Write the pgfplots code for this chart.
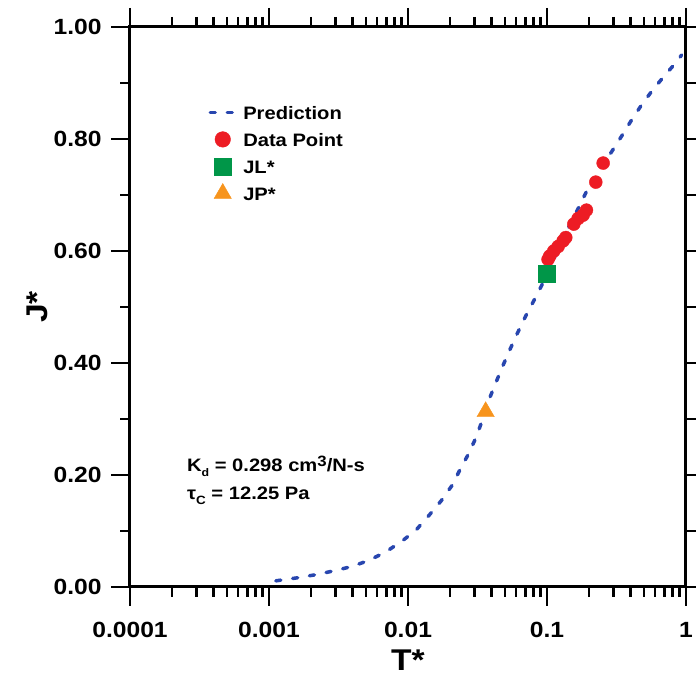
\documentclass[border=0pt]{standalone}
\usepackage{fontspec}
\setmainfont{Liberation Sans}[FakeStretch=1.12]
\usepackage{pgfplots}
\pgfplotsset{compat=1.18}
\definecolor{predblue}{RGB}{40,70,175}
\definecolor{ptred}{RGB}{237,28,36}
\definecolor{ptgreen}{RGB}{0,150,72}
\definecolor{ptorange}{RGB}{247,148,29}
\pgfplotstableread{
x y
0.00112 0.011
0.00156 0.016
0.00218 0.022
0.00295 0.029
0.0040 0.037
0.00528 0.048
0.00696 0.063
0.00917 0.083
0.01146 0.102
0.01429 0.129
0.01734 0.154
0.02083 0.182
0.0235 0.208
0.02742 0.239
0.0310 0.268
0.03427 0.298
0.0382 0.334
0.04273 0.364
0.04775 0.393
0.0539 0.423
0.0612 0.453
0.0703 0.484
0.0803 0.511
0.1 0.557
0.1236 0.611
0.1585 0.664
0.2032 0.718
0.2914 0.777
0.344 0.805
0.4063 0.834
0.4797 0.861
0.5757 0.8875
0.706 0.914
0.857 0.938
0.93 0.950
}\predtable
\pgfplotstableread{
x y
0.1018 0.585
0.1047 0.591
0.1119 0.600
0.1202 0.608
0.1306 0.618
0.1365 0.624
0.1559 0.648
0.1674 0.658
0.1819 0.664
0.1923 0.673
0.2244 0.723
0.2535 0.757
}\datatable
\begin{document}
\begin{tikzpicture}
\begin{axis}[
  at={(0pt,0pt)}, anchor=south west,
  scale only axis, width=556pt, height=560pt,
  xmode=log, xmin=1e-4, xmax=1, ymin=0, ymax=1,
  xtick={1e-4,1e-3,1e-2,1e-1,1},
  xticklabels={0.0001,0.001,0.01,0.1,1},
  ytick={0,0.2,0.4,0.6,0.8,1},
  minor ytick={0.1,0.3,0.5,0.7,0.9},
  yticklabel style={xshift=-6pt, /pgf/number format/.cd, fixed, fixed zerofill, precision=2},
  /pgf/number format/assume math mode=true,
  tick label style={font=\fontsize{22}{22}\selectfont\bfseries},
  xticklabel style={yshift=-13pt},
  tick align=outside,
  major tick length=19pt, minor tick length=10pt,
  tick style={line width=2.5pt, black},
  axis line style={line width=3pt},
  xlabel={T*}, ylabel={J*},
  label style={font=\fontsize{30}{30}\selectfont\bfseries},
  xlabel style={at={([yshift=-73pt]axis description cs:0.5,0)}, anchor=center},
  ylabel style={at={([xshift=-93pt]axis description cs:0,0.5)}, anchor=center},
  legend image code/.code={\path[draw=none,fill=none] (0pt,-4pt) rectangle (25pt,9pt); \draw[overlay,mark repeat=2,mark phase=2,#1] plot coordinates {(0pt,0pt) (12.5pt,0pt) (25pt,0pt)};},
  legend cell align=left,
  legend style={at={(axis description cs:0.144,0.864)}, anchor=north west, draw=none, fill=none,
    font=\fontsize{18}{18}\selectfont\bfseries, inner sep=0pt,
    nodes={inner sep=0pt, text height=13.5pt, text depth=0pt},
    row sep=11.3pt, column sep=8pt},
]
\addplot[predblue, line width=3.5pt, line cap=round, dash pattern=on 5pt off 12pt] table[x=x,y=y] {\predtable};
\addlegendentry{Prediction}
\addplot[only marks, mark=*, mark size=6.5pt, mark options={draw=ptred, fill=ptred}, legend image post style={mark size=7.8pt}] table[x=x,y=y] {\datatable};
\addlegendentry{Data Point}
\addplot[only marks, mark=square*, mark size=8.5pt, mark options={draw=ptgreen, fill=ptgreen}] coordinates {(0.1,0.560)};
\addlegendentry{JL*}
\addplot[only marks, mark=triangle*, mark size=10pt, mark options={draw=ptorange, fill=ptorange}] coordinates {(0.0362,0.313)};
\addlegendentry{JP*}
\node[anchor=west, inner sep=0pt, font=\fontsize{18}{18}\selectfont\bfseries] at (rel axis cs:0.1025,0.216) {K\raisebox{-5pt}{\fontsize{11}{11}\selectfont d} = 0.298 cm\raisebox{5pt}{\fontsize{15}{15}\selectfont 3}/N-s};
\node[anchor=west, inner sep=0pt, font=\fontsize{18}{18}\selectfont\bfseries] at (rel axis cs:0.1025,0.163) {τ\raisebox{-5pt}{\fontsize{12}{12}\selectfont C} = 12.25 Pa};
\end{axis}
\pgfresetboundingbox
\useasboundingbox (-130pt,-89pt) rectangle (566pt,587pt);
\end{tikzpicture}
\end{document}
